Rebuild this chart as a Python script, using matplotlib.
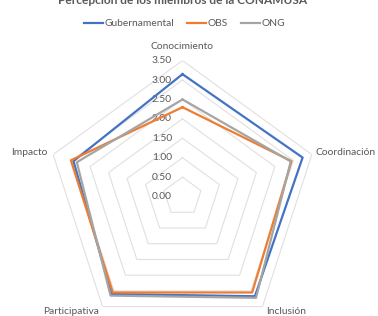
import matplotlib.pyplot as plt
import numpy as np

categorias = ['Conocimiento', 'Coordinación', 'Inclusión', 'Participativa', 'Impacto']
gubernamental = [3.15, 3.25, 3.17, 3.10, 2.95]
obs = [2.30, 2.95, 3.05, 3.05, 3.02]
ong = [2.50, 2.93, 3.22, 3.15, 2.86]
niveles = [0.5, 1.0, 1.5, 2.0, 2.5, 3.0, 3.5]
etiquetas_niveles = ['0.00', '0.50', '1.00', '1.50', '2.00', '2.50', '3.00', '3.50']

plt.rcParams['font.family'] = ['Lato', 'DejaVu Sans']
gris_texto = '#595959'

fig = plt.figure(figsize=(3.78, 3.16), dpi=100)
ax = fig.add_axes([0.123, -0.0525, 0.7196, 0.8608], projection='polar')
ax.set_theta_offset(np.pi / 2)
ax.set_theta_direction(-1)
ax.set_ylim(0, 3.5)
ax.set_frame_on(False)
ax.grid(False)
ax.set_xticks([])
ax.set_yticks([])

angulos = np.linspace(0, 2 * np.pi, len(categorias), endpoint=False)
cerrado = np.append(angulos, angulos[0])

# rejilla en forma de pentágono
for n in niveles:
    ax.plot(cerrado, [n] * len(cerrado), color='#e0e0e0', lw=0.8, zorder=1)

# etiquetas del eje radial
for i, txt in enumerate(etiquetas_niveles):
    ax.annotate(txt, xy=(0, i * 0.5), xytext=(-10.5, 0), textcoords='offset pixels',
                ha='right', va='center', fontsize=7.4, color=gris_texto)

series = [('Gubernamental', gubernamental, '#4472C4'),
          ('OBS', obs, '#ED7D31'),
          ('ONG', ong, '#A5A5A5')]
for nombre, vals, col in series:
    ax.plot(cerrado, vals + vals[:1], color=col, lw=1.6, label=nombre, zorder=3)

# etiquetas de categorías
offsets = [(0, 14, 'center', 'center'), (4, 2, 'left', 'center'), (4, -5, 'left', 'center'),
           (-4, -5, 'right', 'center'), (-6, 2, 'right', 'center')]
for ang, cat, (dx, dy, ha, va) in zip(angulos, categorias, offsets):
    ax.annotate(cat, xy=(ang, 3.5), xytext=(dx, dy), textcoords='offset pixels',
                ha=ha, va=va, fontsize=7.4, color=gris_texto, annotation_clip=False)

fig.text(0.483, 0.998, 'Percepción de los miembros de la CONAMUSA', ha='center', va='center',
         fontsize=8.6, fontweight='bold', color=gris_texto)

fig.legend(loc='center', bbox_to_anchor=(0.488, 0.925), ncol=3, frameon=False,
           fontsize=7.4, handlelength=1.9, handletextpad=0.15, columnspacing=1.2,
           labelcolor=gris_texto)

fig.savefig('out.png', dpi=100)
